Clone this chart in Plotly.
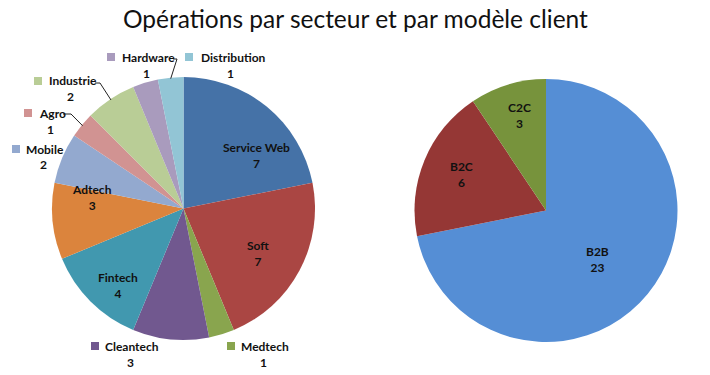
import math
import plotly.graph_objects as go

# ---------------- data ----------------
sectors = ["Service Web", "Soft", "Medtech", "Cleantech", "Fintech", "Adtech",
           "Mobile", "Agro", "Industrie", "Hardware", "Distribution"]
sector_counts = [7, 7, 1, 3, 4, 3, 2, 1, 2, 1, 1]
sector_colors = ["#4572A7", "#AA4643", "#89A54E", "#71588F", "#4198AF", "#DB843D",
                 "#93A9CF", "#D19392", "#B9CD96", "#A99BBD", "#92C5D5"]

models = ["B2B", "B2C", "C2C"]
model_counts = [23, 6, 3]
model_colors = ["#558ED5", "#953735", "#77933C"]

title = "Opérations par secteur et par modèle client"

# ---------------- layout helpers ----------------
W, H = 710, 375
FONT = "Lato"


def X(px):
    return px / W


def Y(py):
    return 1 - py / H


L_C, L_R = (183.5, 208.5), 131.5
R_C, R_R = (546.0, 210.5), 131.5


def mid_angles(values):
    tot = sum(values)
    out, cum = [], 0
    for v in values:
        out.append((cum + v / 2) / tot * 360)
        cum += v
    return out


def polar(center, r, ang):
    a = math.radians(ang)
    return center[0] + r * math.sin(a), center[1] - r * math.cos(a)


fig = go.Figure()
fig.add_trace(go.Pie(
    labels=sectors, values=sector_counts, sort=False, direction="clockwise", rotation=0,
    marker=dict(colors=sector_colors, line=dict(width=0)),
    textinfo="none", hoverinfo="label+value", showlegend=False,
    domain=dict(x=[X(L_C[0] - L_R), X(L_C[0] + L_R)], y=[Y(L_C[1] + L_R), Y(L_C[1] - L_R)]),
))
fig.add_trace(go.Pie(
    labels=models, values=model_counts, sort=False, direction="clockwise", rotation=0,
    marker=dict(colors=model_colors, line=dict(width=0)),
    textinfo="none", hoverinfo="label+value", showlegend=False,
    domain=dict(x=[X(R_C[0] - R_R), X(R_C[0] + R_R)], y=[Y(R_C[1] + R_R), Y(R_C[1] - R_R)]),
))

annotations = []
shapes = []
lab_font = dict(family=FONT, size=12, color="#111111")


def ann(px, py, text, xanchor="center", font=lab_font):
    annotations.append(dict(x=X(px), y=Y(py), xref="paper", yref="paper",
                            xanchor=xanchor, yanchor="middle", text=text,
                            showarrow=False, font=font, align="center"))


# inside labels: (radius fraction, angle offset from slice middle)
inside_left = {"Service Web": (0.69, 14.6), "Soft": (0.66, 3.0),
               "Fintech": (0.77, -4.4), "Adtech": (0.70, 12.6)}
mids = mid_angles(sector_counts)
for name, val, ang in zip(sectors, sector_counts, mids):
    if name in inside_left:
        f, d = inside_left[name]
        x, y = polar(L_C, f * L_R, ang + d)
        ann(x, y, f"<b>{name}</b><br><b>{val}</b>")

inside_right = {"B2B": (0.54, 4.2), "B2C": (0.70, 0.5), "C2C": (0.75, 1.5)}
for name, val, ang in zip(models, model_counts, mid_angles(model_counts)):
    f, d = inside_right[name]
    x, y = polar(R_C, f * R_R, ang + d)
    ann(x, y, f"<b>{name}</b><br><b>{val}</b>")

# outside labels: square x (left), text left x, text center x, first line y
outside = {
    "Hardware": (107, 120, 146, 57),
    "Distribution": (185, 199, 230, 57),
    "Industrie": (34, 47, 70, 81),
    "Agro": (24, 37, 50, 113),
    "Mobile": (12, 24, 43, 149),
    "Cleantech": (91, 103, 130, 346),
    "Medtech": (227, 239, 263, 346),
}
for name, val, col in zip(sectors, sector_counts, sector_colors):
    if name not in outside:
        continue
    sx, tx, cx, ly = outside[name]
    shapes.append(dict(type="rect", xref="paper", yref="paper",
                       x0=X(sx), x1=X(sx + 8), y0=Y(ly + 4), y1=Y(ly - 4),
                       fillcolor=col, line=dict(width=0)))
    ann(tx, ly, f"<b>{name}</b>", xanchor="left")
    ann(cx, ly + 16, f"<b>{val}</b>")

# leader lines: label-side points, ending on slice edge at its middle angle
leaders = {
    "Distribution": [(173, 59), (177, 59)],
    "Industrie": [(95, 83), (100, 83)],
    "Agro": [(63, 114), (71, 114)],
}
for name, ang in zip(sectors, mids):
    if name in leaders:
        pts = leaders[name] + [polar(L_C, L_R - 1, ang)]
        path = "M " + " L ".join(f"{X(px)},{Y(py)}" for px, py in pts)
        shapes.append(dict(type="path", xref="paper", yref="paper", path=path,
                           line=dict(color="#222222", width=1)))

ann(355, 18, title, font=dict(family=FONT, size=24.5, color="#111111"))

fig.update_layout(
    width=W, height=H, margin=dict(l=0, r=0, t=0, b=0),
    paper_bgcolor="white", plot_bgcolor="white",
    annotations=annotations, shapes=shapes, showlegend=False,
)
fig.write_html("out.html", config={"displayModeBar": False})

# remove the default page margin so the figure sits at the window's corner
with open("out.html", "r", encoding="utf-8") as fh:
    html = fh.read()
html = html.replace("<body>", '<body style="margin:0;padding:0;">', 1)
with open("out.html", "w", encoding="utf-8") as fh:
    fh.write(html)
